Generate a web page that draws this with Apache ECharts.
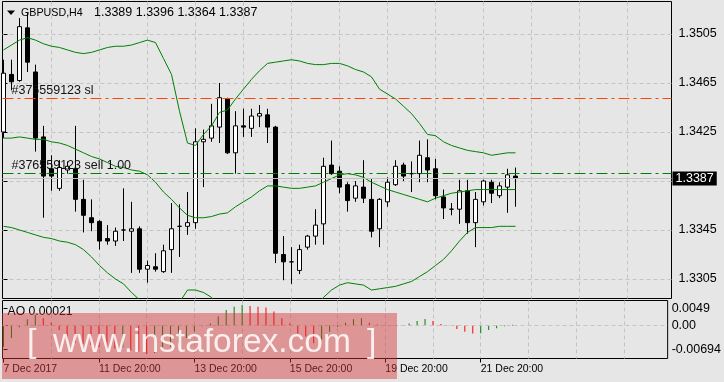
<!DOCTYPE html>
<html><head><meta charset="utf-8">
<script src="https://cdn.jsdelivr.net/npm/echarts@6/dist/echarts.min.js"></script>
<style>html,body{margin:0;padding:0;background:#e6e6e6}#c{width:724px;height:382px}</style>
</head><body><div id="c"></div>
<script>
const symbolName = 'GBPUSD,H4';
const opens = [1.3425,1.3472,1.3467,1.3510,1.3474,1.3421,1.3395,1.3379,1.3394,1.3395,
1.3370,1.3355,1.3352,1.3338,1.3336,1.3345,1.3344,1.3346,1.3313,1.3315,
1.3311,1.3329,1.3348,1.3348,1.3351,1.3417,1.3420,1.3429,1.3452,1.3408,
1.3430,1.3428,1.3438,1.3439,1.3429,1.3325,1.3319,1.3312,1.3331,1.3340,
1.3350,1.3398,1.3393,1.3382,1.3371,1.3380,1.3370,1.3346,1.3368,1.3382,
1.3398,1.3391,1.3391,1.3404,1.3395,1.3372,1.3362,1.3362,1.3377,1.3351,
1.3368,1.3384,1.3373,1.3380,1.3389];
const highs = [1.3484,1.3484,1.3518,1.3522,1.3480,1.3430,1.3406,1.3402,1.3401,1.3430,
1.3386,1.3370,1.3353,1.3349,1.3347,1.3379,1.3368,1.3348,1.3320,1.3326,
1.3333,1.3367,1.3366,1.3376,1.3428,1.3427,1.3448,1.3465,1.3453,1.3442,
1.3444,1.3444,1.3447,1.3444,1.3430,1.3340,1.3331,1.3333,1.3341,1.3362,
1.3404,1.3418,1.3397,1.3384,1.3385,1.3402,1.3387,1.3371,1.3388,1.3402,
1.3400,1.3401,1.3418,1.3419,1.3403,1.3378,1.3367,1.3386,1.3386,1.3376,
1.3386,1.3386,1.3384,1.3395,1.3396];
const lows = [1.3420,1.3459,1.3466,1.3474,1.3409,1.3355,1.3377,1.3377,1.3391,1.3360,
1.3343,1.3344,1.3329,1.3333,1.3332,1.3336,1.3310,1.3310,1.3302,1.3311,
1.3310,1.3310,1.3323,1.3341,1.3346,1.3380,1.3417,1.3416,1.3407,1.3391,
1.3421,1.3421,1.3429,1.3416,1.3318,1.3304,1.3301,1.3309,1.3329,1.3333,
1.3333,1.3390,1.3375,1.3360,1.3368,1.3367,1.3339,1.3331,1.3364,1.3381,
1.3385,1.3376,1.3384,1.3384,1.3370,1.3354,1.3357,1.3350,1.3342,1.3331,
1.3365,1.3367,1.3371,1.3359,1.3364];
const closes = [1.3473,1.3466,1.3511,1.3482,1.3420,1.3389,1.3389,1.3396,1.3397,1.3370,
1.3357,1.3351,1.3336,1.3336,1.3344,1.3345,1.3346,1.3313,1.3316,1.3313,
1.3328,1.3346,1.3348,1.3351,1.3417,1.3419,1.3430,1.3453,1.3408,1.3430,
1.3429,1.3438,1.3440,1.3429,1.3326,1.3319,1.3319,1.3329,1.3340,1.3349,
1.3397,1.3391,1.3380,1.3369,1.3381,1.3371,1.3344,1.3370,1.3384,1.3397,
1.3389,1.3391,1.3406,1.3394,1.3373,1.3363,1.3362,1.3377,1.3351,1.3370,
1.3385,1.3375,1.3381,1.3390,1.3387];
const bbUpper = [1.3492,1.3496,1.3500,1.3502,1.3500,1.3497,1.3495,1.3494,1.3492,1.3490,
1.3489,1.3490,1.3492,1.3494,1.3495,1.3495,1.3496,1.3498,1.3500,1.3498,
1.3485,1.3472,1.3442,1.3416,1.3414,1.3423,1.3430,1.3441,1.3443,1.3452,
1.3460,1.3468,1.3475,1.3481,1.3482,1.3483,1.3484,1.3483,1.3481,1.3480,
1.3480,1.3481,1.3481,1.3479,1.3476,1.3474,1.3470,1.3460,1.3456,1.3452,
1.3446,1.3440,1.3432,1.3423,1.3422,1.3417,1.3414,1.3412,1.3410,1.3409,
1.3408,1.3406,1.3407,1.3408,1.3408];
const bbMiddle = [1.3420,1.3420,1.3421,1.3420,1.3419,1.3419,1.3417,1.3416,1.3414,1.3411,
1.3408,1.3405,1.3403,1.3400,1.3397,1.3396,1.3394,1.3393,1.3390,1.3384,
1.3376,1.3370,1.3363,1.3357,1.3355,1.3355,1.3356,1.3358,1.3359,1.3364,
1.3368,1.3372,1.3377,1.3381,1.3381,1.3380,1.3379,1.3379,1.3380,1.3381,
1.3384,1.3387,1.3390,1.3391,1.3390,1.3388,1.3384,1.3381,1.3378,1.3376,
1.3374,1.3372,1.3370,1.3368,1.3371,1.3373,1.3375,1.3376,1.3377,1.3378,
1.3378,1.3378,1.3378,1.3378,1.3378];
const bbLower = [1.3348,1.3347,1.3345,1.3343,1.3341,1.3339,1.3338,1.3336,1.3335,1.3333,
1.3329,1.3323,1.3316,1.3310,1.3305,1.3301,1.3294,1.3288,1.3280,1.3272,
1.3269,1.3272,1.3286,1.3296,1.3296,1.3294,1.3290,1.3276,1.3276,1.3276,
1.3276,1.3276,1.3280,1.3282,1.3281,1.3277,1.3275,1.3276,1.3279,1.3282,
1.3290,1.3296,1.3300,1.3302,1.3301,1.3300,1.3296,1.3297,1.3298,1.3299,
1.3301,1.3303,1.3307,1.3311,1.3316,1.3321,1.3328,1.3336,1.3343,1.3347,
1.3347,1.3347,1.3348,1.3348,1.3348];
const aoValues = [-0.0062,-0.0036,-0.0005,0.0018,0.0030,0.0021,0.0008,-0.0013,-0.0042,-0.0051,
-0.0053,-0.0056,-0.0063,-0.0066,-0.0066,-0.0063,-0.0071,-0.0076,-0.0082,-0.0079,
-0.0071,-0.0062,-0.0051,-0.0036,-0.0017,-0.0002,0.0006,0.0027,0.0045,0.0054,
0.0059,0.0056,0.0054,0.0052,0.0040,0.0021,0.0006,-0.0023,-0.0032,-0.0051,
-0.0040,-0.0018,-0.0004,0.0008,0.0018,0.0021,0.0008,0.0003,0.0001,-0.0001,
-0.0001,0.0006,0.0013,0.0019,0.0013,0.0004,-0.0001,-0.0010,-0.0018,-0.0023,
-0.0022,-0.0013,-0.0008,-0.0002,0.00021];
const dateLabels = ['7 Dec 2017','11 Dec 20:00','13 Dec 20:00','15 Dec 20:00','19 Dec 20:00','21 Dec 20:00'];
const dateLabelIndex = [0,12,24,36,48,60];
const dayGridIndex = [6,12,18,24,30,36,42,48,54,60,66,72,78];
const priceGridTicks = [1.3305,1.3345,1.3385,1.3425,1.3465,1.3505];
const priceLabelTicks = [1.3305,1.3345,1.3425,1.3465,1.3505];
const aoTicks = [0.0049,0,-0.00694];
const aoTickLabels = ['0.0049','0.00','-0.00694'];
const orderId = '376559123';
const slPrice = 1.34525;
const sellPrice = 1.33913;
const sellLots = 1.00;

const FONT = 'Liberation Sans, Arial, sans-serif';
const GRIDC = '#c4c4c4';
const DASH = [4,3];
const n = opens.length;
const idx = opens.map((_, i) => i);
const candleData = idx.map(i => [i, opens[i], closes[i], lows[i], highs[i]]);
const toXY = arr => arr.map((v, i) => [i, v]);
const lastClose = closes[n - 1];

const chart = echarts.init(document.getElementById('c'), null, {renderer: 'canvas'});
const xCommon = {type: 'value', min: -0.125, max: 83.5, axisLine: {show: false}};
chart.setOption({
  animation: false,
  backgroundColor: '#e6e6e6',
  textStyle: {fontFamily: FONT},
  grid: [
    {left: 2.5, top: 1.5, width: 669, height: 297, show: true, borderColor: '#000', borderWidth: 1, backgroundColor: 'transparent'},
    {left: 2.5, top: 300.5, width: 669, height: 58, show: true, borderColor: '#000', borderWidth: 1, backgroundColor: 'transparent'}
  ],
  xAxis: [
    Object.assign({gridIndex: 0, axisTick: {show: false, customValues: dayGridIndex}, axisLabel: {show: false},
      splitLine: {show: true, lineStyle: {color: GRIDC, type: DASH}}}, xCommon),
    Object.assign({gridIndex: 1, axisTick: {show: false, customValues: dayGridIndex}, axisLabel: {show: false},
      splitLine: {show: true, lineStyle: {color: GRIDC, type: DASH}}}, xCommon),
    Object.assign({gridIndex: 1, position: 'bottom', splitLine: {show: false},
      axisTick: {show: true, length: 4, customValues: dateLabelIndex, lineStyle: {color: '#000'}},
      axisLabel: {show: true, customValues: dateLabelIndex, margin: 5, align: 'left', fontSize: 10.5, color: '#000',
        formatter: v => { const k = dateLabelIndex.indexOf(Math.round(v)); return k >= 0 ? dateLabels[k] : ''; }}}, xCommon)
  ],
  yAxis: [
    {gridIndex: 0, type: 'value', position: 'right', min: 1.328908, max: 1.353153,
      axisLine: {show: false},
      axisTick: {show: true, length: 4, customValues: priceGridTicks, lineStyle: {color: '#000'}},
      axisLabel: {show: true, customValues: priceLabelTicks, margin: 7, fontSize: 12.5, color: '#000', formatter: v => v.toFixed(4)},
      splitLine: {show: true, lineStyle: {color: GRIDC, type: DASH}}},
    {gridIndex: 1, type: 'value', position: 'right', min: -0.00951, max: 0.007205,
      axisLine: {show: false},
      axisTick: {show: true, length: 4, customValues: aoTicks, lineStyle: {color: '#000'}},
      axisLabel: {show: true, customValues: aoTicks, margin: 4, fontSize: 12.5, color: '#000',
        formatter: v => { const k = aoTicks.findIndex(t => Math.abs(t - v) < 1e-9); return k >= 0 ? aoTickLabels[k] : ''; }},
      splitLine: {show: false}}
  ],
  series: [
    {type: 'line', xAxisIndex: 0, yAxisIndex: 0, data: [], z: 1, silent: true,
      markLine: {silent: true, symbol: ['none', 'none'], animation: false, precision: 6,
        data: [
          {yAxis: slPrice, lineStyle: {color: '#ff4500', width: 1, type: [11, 4, 3, 4]},
            label: {show: true, position: 'insideStartTop', distance: [9, 1], formatter: '#' + orderId + ' sl', color: '#111', fontSize: 12.5, fontFamily: FONT}},
          {yAxis: sellPrice, lineStyle: {color: '#008000', width: 1, type: [11, 4, 3, 4]},
            label: {show: true, position: 'insideStartTop', distance: [9, 1], formatter: '#' + orderId + ' sell ' + sellLots.toFixed(2), color: '#111', fontSize: 12.5, fontFamily: FONT}},
          {yAxis: lastClose, lineStyle: {color: '#c0c0c0', width: 1, type: 'solid'},
            label: {show: true, position: 'end', distance: 1, formatter: lastClose.toFixed(4), color: '#fff', backgroundColor: '#000', padding: [1, 3, 0, 3], fontSize: 12.5, fontFamily: FONT}}
        ]}},
    {type: 'candlestick', xAxisIndex: 0, yAxisIndex: 0, z: 3, barWidth: 4, data: candleData, encode: {x: 0, y: [1, 2, 3, 4]},
      itemStyle: {color: '#ffffff', color0: '#000000', borderColor: '#000000', borderColor0: '#000000', borderWidth: 1}},
    {type: 'line', xAxisIndex: 0, yAxisIndex: 0, z: 4, data: toXY(bbUpper), showSymbol: false, silent: true, lineStyle: {color: '#008000', width: 1}},
    {type: 'line', xAxisIndex: 0, yAxisIndex: 0, z: 4, data: toXY(bbMiddle), showSymbol: false, silent: true, lineStyle: {color: '#008000', width: 1}},
    {type: 'line', xAxisIndex: 0, yAxisIndex: 0, z: 4, data: toXY(bbLower), showSymbol: false, silent: true, lineStyle: {color: '#008000', width: 1}},
    {type: 'bar', xAxisIndex: 1, yAxisIndex: 1, z: 3, barWidth: 1, data: toXY(aoValues), silent: true,
      itemStyle: {color: p => (p.dataIndex === 0 || aoValues[p.dataIndex] > aoValues[p.dataIndex - 1]) ? '#008000' : '#ff0000'},
      markLine: {silent: true, symbol: ['none', 'none'], label: {show: false}, precision: 6,
        data: [{yAxis: 0}], lineStyle: {color: GRIDC, type: DASH, width: 1}}}
  ],
  graphic: [
    {type: 'polygon', z: 100, shape: {points: [[7, 10.5], [15, 10.5], [11, 15]]}, style: {fill: '#000'}},
    {type: 'text', z: 100, x: 21, y: 13, style: {text: symbolName, font: '10.7px ' + FONT, fill: '#000', verticalAlign: 'middle', textVerticalAlign: 'middle'}},
    {type: 'text', z: 100, x: 94, y: 13, style: {text: [opens[n-1], highs[n-1], lows[n-1], closes[n-1]].map(v => v.toFixed(4)).join(' '), font: '12.5px ' + FONT, fill: '#000', verticalAlign: 'middle', textVerticalAlign: 'middle'}},
    {type: 'text', z: 100, x: 7.5, y: 312, style: {text: 'AO ' + aoValues[n-1].toFixed(5), font: '12.2px ' + FONT, fill: '#000', verticalAlign: 'middle', textVerticalAlign: 'middle'}},
    {type: 'rect', z: 110, shape: {x: 2, y: 313, width: 395, height: 66}, style: {fill: 'rgba(210,52,52,0.45)'}},
    {type: 'text', z: 120, x: 27, y: 343, style: {text: '[', font: '34px ' + FONT, fill: 'rgba(255,255,255,0.85)', verticalAlign: 'middle', textVerticalAlign: 'middle'}},
    {type: 'text', z: 120, x: 53, y: 343, style: {text: 'www.instaforex.com', font: '33.5px ' + FONT, fill: 'rgba(255,255,255,0.85)', verticalAlign: 'middle', textVerticalAlign: 'middle'}},
    {type: 'text', z: 120, x: 367, y: 343, style: {text: ']', font: '34px ' + FONT, fill: 'rgba(255,255,255,0.85)', verticalAlign: 'middle', textVerticalAlign: 'middle'}}
  ]
});
</script></body></html>
